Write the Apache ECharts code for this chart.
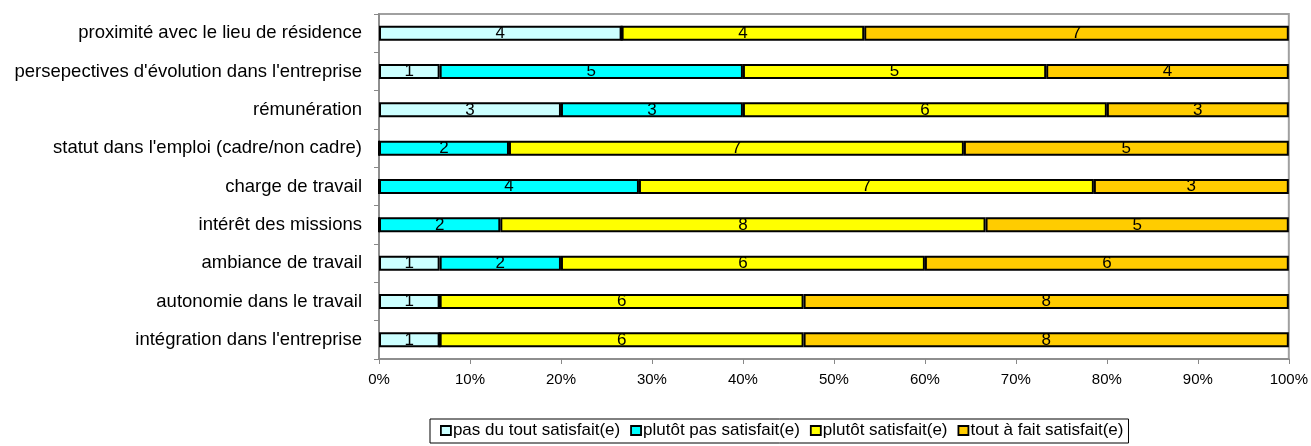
<!DOCTYPE html>
<html>
<head>
<meta charset="utf-8">
<script src="https://cdn.jsdelivr.net/npm/echarts@6/dist/echarts.min.js"></script>
<style>
html,body{margin:0;padding:0;background:#fff;}
#chart{width:1311px;height:446px;}
</style>
</head>
<body>
<div id="chart"></div>
<script>
const categories = [
  "proximité avec le lieu de résidence",
  "persepectives d'évolution dans l'entreprise",
  "rémunération",
  "statut dans l'emploi (cadre/non cadre)",
  "charge de travail",
  "intérêt des missions",
  "ambiance de travail",
  "autonomie dans le travail",
  "intégration dans l'entreprise"
];
const seriesNames = [
  "pas du tout satisfait(e)",
  "plutôt pas satisfait(e)",
  "plutôt satisfait(e)",
  "tout à fait satisfait(e)"
];
const pasDuTout   = [4, 1, 3, 0, 0, 0, 1, 1, 1];
const plutotPas   = [0, 5, 3, 2, 4, 2, 2, 0, 0];
const plutotSat   = [4, 5, 6, 7, 7, 8, 6, 6, 6];
const toutAFait   = [7, 4, 3, 5, 3, 5, 6, 8, 8];
const xTicks = [0,10,20,30,40,50,60,70,80,90,100];
const colors = ["#CCFFFF", "#00FFFF", "#FFFF00", "#FFCC00"];

const counts = [pasDuTout, plutotPas, plutotSat, toutAFait];
const totals = categories.map((c, i) => counts.reduce((s, a) => s + a[i], 0));

const FONT = "Liberation Sans, Arial, sans-serif";

const series = counts.map((arr, k) => ({
  name: seriesNames[k],
  type: 'bar',
  stack: 'total',
  barWidth: 15,
  data: arr.map((v, i) => ({ value: v / totals[i] * 100, count: v })),
  itemStyle: { color: colors[k], borderColor: '#000', borderWidth: 2 },
  label: {
    show: true,
    position: 'inside',
    color: '#000',
    fontSize: 17,
    fontFamily: FONT,
    formatter: p => p.data.count ? String(p.data.count) : ''
  },
  emphasis: { disabled: true },
  animation: false
}));

const chart = echarts.init(document.getElementById('chart'));
chart.setOption({
  animation: false,
  textStyle: { fontFamily: FONT },
  grid: {
    left: 379, right: 18, top: 14, bottom: 87,
    show: true, borderColor: '#a0a0a0', borderWidth: 2, backgroundColor: 'transparent'
  },
  xAxis: {
    type: 'value', min: 0, max: 100, interval: 10,
    axisLine: { show: true, lineStyle: { color: '#888', width: 1.5 } },
    axisTick: { show: true, length: 5, lineStyle: { color: '#888' } },
    splitLine: { show: false },
    axisLabel: { color: '#000', fontSize: 15, fontFamily: FONT, margin: 13,
      formatter: v => xTicks.includes(v) ? v + '%' : '' }
  },
  yAxis: {
    type: 'category', data: categories, inverse: true,
    axisLine: { show: true, lineStyle: { color: '#888', width: 1.5 } },
    axisTick: { show: true, length: 5, lineStyle: { color: '#888' } },
    axisLabel: { color: '#000', fontSize: 18.5, fontFamily: FONT, margin: 17 }
  },
  legend: {
    left: 430, top: 419,
    data: seriesNames,
    icon: 'rect', itemWidth: 10, itemHeight: 9, itemGap: 10,
    borderColor: '#000', borderWidth: 1, padding: [3, 5, 4, 10],
    textStyle: { color: '#000', fontSize: 17, fontFamily: FONT, padding: [0, 0, 0, -3] },
    itemStyle: { borderColor: '#000', borderWidth: 1.8 }
  },
  series: series
});
</script>
</body>
</html>
